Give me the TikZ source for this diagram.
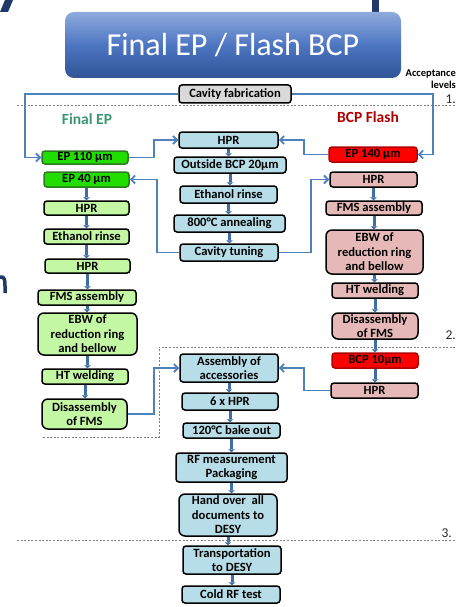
\documentclass[tikz,border=0pt]{standalone}
\usepackage{fontspec}
\setmainfont{Carlito}
\usetikzlibrary{arrows.meta}
\definecolor{lgreen}{HTML}{C4F7A4}
\definecolor{bgreen}{HTML}{22DD00}
\definecolor{dgreen}{HTML}{2E7A22}
\definecolor{lblue}{HTML}{B7DEE8}
\definecolor{pinkc}{HTML}{E6B9B8}
\definecolor{redc}{HTML}{FF0000}
\definecolor{dred}{HTML}{B00000}
\definecolor{grayc}{HTML}{D9D9D9}
\definecolor{conncol}{HTML}{4F81BD}
\definecolor{thickcol}{HTML}{3F6EA5}
\definecolor{navy}{HTML}{1F3A68}
\definecolor{teal}{HTML}{3A9670}
\definecolor{dashc}{HTML}{7F7F7F}
\definecolor{ttop}{HTML}{8FAADC}
\definecolor{tmid}{HTML}{4D76C2}
\definecolor{tbot}{HTML}{2F5597}
\tikzset{
  bx/.style={draw=black, line width=1.5pt, rounded corners=3pt, inner sep=0pt,
    font=\fontsize{12.6}{14.5}\selectfont\bfseries, align=center},
  big/.style={rounded corners=6pt},
  conn/.style={draw=conncol, line width=1.8pt, -{Straight Barb[length=4pt,width=8pt]}},
  thk/.style={draw=thickcol, line width=3pt, -{Triangle[length=3pt,width=6.5pt]}},
  sep/.style={draw=dashc, line width=0.8pt, dash pattern=on 2pt off 1.6pt},
  lvl/.style={font=\fontsize{13.5}{14}\selectfont, text=black!85},
}
\begin{document}
\begin{tikzpicture}[x=1pt,y=-1pt]
\useasboundingbox (0,0) rectangle (461,607);
% slide fragments
\fill[navy] (5,0) -- (13,0) -- (8,12) -- (0,12) -- cycle;
\fill[navy] (372,0) rectangle (379,12);
\draw[navy, line width=3.5pt] (0,277) .. controls (5,276) and (5,281) .. (5,286) -- (5,293);
% title
\node[rounded corners=9pt, minimum width=336pt, minimum height=66pt, inner sep=0pt,
  top color=ttop, bottom color=tbot, middle color=tmid,
  text=white, font=\fontsize{32}{34}\selectfont] (title) at (233,45) {Final EP / Flash BCP};
% acceptance levels
\node[anchor=east, align=right, font=\fontsize{10.5}{12}\selectfont\bfseries, inner sep=0pt] (acc) at (456,79) {Acceptance\\levels};
\node[lvl, anchor=east, inner sep=0pt] (l1) at (456,99) {1.};
\node[lvl, anchor=east, inner sep=0pt] (l2) at (456,335) {2.};
\node[lvl, anchor=east, inner sep=0pt] (l3) at (452,533) {3.};
% separators
\draw[sep] (17,105) -- (455,105);
\draw[sep] (43,437) -- (159,437) -- (159,347) -- (455,347);
\draw[sep] (17,540) -- (455,540);
% headers
\node[text=teal, font=\fontsize{15.5}{17}\selectfont\bfseries] (hep) at (87,119) {Final EP};
\node[text=dred, font=\fontsize{15.5}{17}\selectfont\bfseries] (hbcp) at (368,117) {BCP Flash};
% cavity fabrication
\node[bx, fill=grayc, minimum width=112pt, minimum height=18pt] (cav) at (235,94) {Cavity fabrication};
% left column
\node[bx, fill=bgreen, draw=dgreen, minimum width=86pt, minimum height=13pt] (ep110) at (85,157.5) {EP 110 µm};
\node[bx, fill=bgreen, draw=dgreen, minimum width=85pt, minimum height=15pt] (ep40) at (86.5,179.5) {EP 40 µm};
\node[bx, fill=lgreen, minimum width=85pt, minimum height=14pt] (lhpra) at (86.5,208) {HPR};
\node[bx, fill=lgreen, minimum width=85pt, minimum height=15pt] (leth) at (86.5,236.5) {Ethanol rinse};
\node[bx, fill=lgreen, minimum width=85pt, minimum height=14pt] (lhprb) at (87.5,266) {HPR};
\node[bx, fill=lgreen, minimum width=98pt, minimum height=15pt] (lfms) at (87,297.5) {FMS assembly};
\node[bx, big, fill=lgreen, minimum width=99pt, minimum height=42pt] (lebw) at (87.5,334) {EBW of\\reduction ring\\and bellow};
\node[bx, fill=lgreen, minimum width=86pt, minimum height=15pt] (lht) at (85,376.5) {HT welding};
\node[bx, big, fill=lgreen, minimum width=85pt, minimum height=30pt] (ldis) at (84.5,414) {Disassembly\\of FMS};
% center column
\node[bx, fill=lblue, minimum width=99pt, minimum height=16pt] (chpr) at (228.5,140) {HPR};
\node[bx, fill=lblue, minimum width=112pt, minimum height=16pt] (cbcp) at (230,165) {Outside BCP 20µm};
\node[bx, fill=lblue, minimum width=97pt, minimum height=17pt] (ceth) at (228.5,194.5) {Ethanol rinse};
\node[bx, fill=lblue, minimum width=111pt, minimum height=17pt] (cann) at (229.5,223.5) {800°C annealing};
\node[bx, fill=lblue, minimum width=98pt, minimum height=17pt] (ctun) at (229,252.5) {Cavity tuning};
\node[bx, fill=lblue, minimum width=98pt, minimum height=28pt] (cass) at (229,368) {Assembly of\\accessories};
\node[bx, fill=lblue, minimum width=96pt, minimum height=17pt] (c6) at (230,401.5) {6 x HPR};
\node[bx, fill=lblue, minimum width=97pt, minimum height=15pt] (cbake) at (231.5,430.5) {120°C bake out};
\node[bx, fill=lblue, minimum width=111pt, minimum height=29pt] (crf) at (231.5,467.5) {RF measurement\\Packaging};
\node[bx, big, fill=lblue, minimum width=98pt, minimum height=42pt] (chand) at (228,515) {Hand over\ \ all\\documents to\\DESY};
\node[bx, fill=lblue, minimum width=98pt, minimum height=28pt] (ctrans) at (232,560) {Transportation\\to DESY};
\node[bx, fill=lblue, minimum width=98pt, minimum height=17pt] (ccold) at (231,594.5) {Cold RF test};
% right column
\node[bx, fill=redc, draw=dred, minimum width=88pt, minimum height=15pt] (ep140) at (373,154.5) {EP 140 µm};
\node[bx, fill=pinkc, minimum width=87pt, minimum height=15pt] (rhpra) at (373.5,179.5) {HPR};
\node[bx, fill=pinkc, minimum width=96pt, minimum height=14pt] (rfms) at (374,208) {FMS assembly};
\node[bx, big, fill=pinkc, minimum width=97pt, minimum height=44pt] (rebw) at (374.5,252) {EBW of\\reduction ring\\and bellow};
\node[bx, fill=pinkc, minimum width=86pt, minimum height=15pt] (rht) at (375,290.5) {HT welding};
\node[bx, big, fill=pinkc, minimum width=86pt, minimum height=26pt] (rdis) at (375,326) {Disassembly\\of FMS};
\node[bx, fill=redc, draw=dred, minimum width=86pt, minimum height=15pt] (rbcp) at (375,360.5) {BCP 10µm};
\node[bx, fill=pinkc, minimum width=87pt, minimum height=15pt] (rhprb) at (374.5,390.5) {HPR};
% thick vertical arrows
\foreach \a/\b in {ep40/lhpra, lhpra/leth, leth/lhprb, lhprb/lfms, lfms/lebw, lebw/lht, lht/ldis,
  chpr/cbcp, cbcp/ceth, ceth/cann, cann/ctun,
  cass/c6, c6/cbake, cbake/crf, crf/chand, chand/ctrans, ctrans/ccold,
  rhpra/rfms, rfms/rebw, rebw/rht, rht/rdis, rdis/rbcp, rbcp/rhprb}
  \draw[thk] (\a.south) -- (\a.south |- \b.north);
% thin connectors
\draw[conn] (cav.west) -- ++(-153,0) |- (ep110.west);
\draw[conn] (cav.east) -- ++(141,0) |- (ep140.east);
\draw[conn] (ep110.east) -- ++(25,0) |- (chpr.west);
\draw[conn] (ep140.west) -- ++(-24,0) |- (chpr.east);
\draw[conn] (ctun.west) -- ++(-22,0) |- (ep40.east);
\draw[conn] (ctun.east) -- ++(32,0) |- (rhpra.west);
\draw[conn] (ldis.east) -- ++(26,0) |- (cass.west);
\draw[conn] (rhprb.west) -- ++(-26,0) |- (cass.east);
\end{tikzpicture}
\end{document}
